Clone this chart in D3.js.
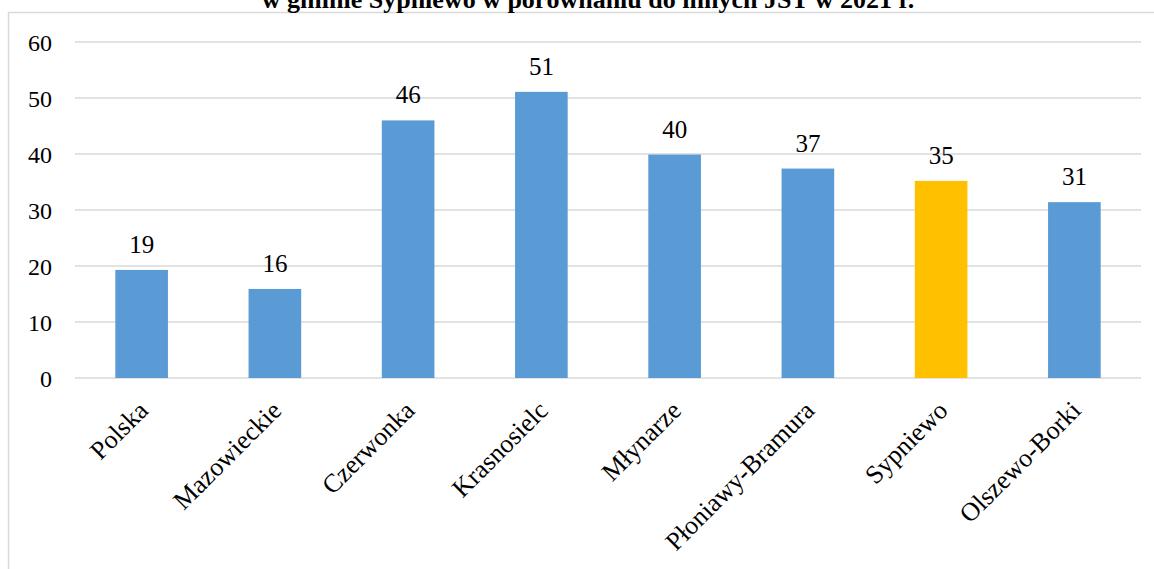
<!DOCTYPE html>
<html>
<head>
<meta charset="utf-8">
<script src="https://cdn.jsdelivr.net/npm/d3@7"></script>
<style>
  html, body { margin: 0; padding: 0; background: #fff; }
  svg { display: block; }
  svg text { font-family: "Liberation Serif", "Times New Roman", serif !important; fill: #000; }
</style>
</head>
<body>
<svg id="chart" width="1154" height="569"></svg>
<script>
const titleText = "w gminie Sypniewo w porównaniu do innych JST w 2021 r.";
const categories = ["Polska", "Mazowieckie", "Czerwonka", "Krasnosielc", "Młynarze", "Płoniawy-Bramura", "Sypniewo", "Olszewo-Borki"];
const values = [19.3, 15.9, 46.0, 51.1, 39.9, 37.4, 35.2, 31.4];
const highlight = ["Sypniewo"];
const yTicks = [0, 10, 20, 30, 40, 50, 60];

const W = 1154, H = 569;
const margin = { left: 75, right: 13, top: 42, bottom: 191 };
const FONT = "'Liberation Serif', 'Times New Roman', serif";
const svg = d3.select("#chart");

svg.append("rect").attr("width", W).attr("height", H).attr("fill", "#fff");

// outer frame (partially visible)
svg.append("path")
  .attr("d", `M8.5,${H} V12.5 H${W}`)
  .attr("fill", "none").attr("stroke", "#d9d9d9").attr("stroke-width", 1.5);

const x = d3.scaleBand()
  .domain(categories)
  .range([margin.left, W - margin.right])
  .paddingInner(0.605).paddingOuter(0.3025);

const y = d3.scaleLinear().domain([0, 60]).range([H - margin.bottom, margin.top]);

// gridlines
svg.append("g").selectAll("line").data(yTicks).join("line")
  .attr("x1", margin.left).attr("x2", W - margin.right)
  .attr("y1", d => y(d)).attr("y2", d => y(d))
  .attr("stroke", "#d9d9d9").attr("stroke-width", 1.5);

// y axis labels
const yAxis = d3.axisLeft(y).tickValues(yTicks).tickSize(0).tickPadding(0);
const gy = svg.append("g").attr("transform", `translate(52,0)`).call(yAxis);
gy.attr("font-family", FONT).attr("font-size", 24);
gy.select(".domain").remove();
gy.selectAll("text").style("font-family", FONT).style("font-size", "24px").attr("fill", "#000").attr("dy", "0.35em");

// bars
svg.append("g").selectAll("rect").data(categories).join("rect")
  .attr("x", d => x(d))
  .attr("width", x.bandwidth())
  .attr("y", (d, i) => y(values[i]))
  .attr("height", (d, i) => y(0) - y(values[i]))
  .attr("fill", d => highlight.includes(d) ? "#FFC000" : "#5B9BD5");

// value labels
svg.append("g").selectAll("text").data(categories).join("text")
  .attr("x", d => x(d) + x.bandwidth() / 2)
  .attr("y", (d, i) => y(values[i]) - 17)
  .attr("text-anchor", "middle")
  .style("font-family", FONT).style("font-size", "25px")
  .text((d, i) => d3.format(".0f")(values[i]));

// x axis labels
const xAxis = d3.axisBottom(x).tickSize(0).tickPadding(0);
const gx = svg.append("g").attr("transform", `translate(0,${y(0)})`).call(xAxis);
gx.attr("font-family", FONT).attr("font-size", 27);
gx.select(".domain").remove();
gx.selectAll("text")
  .style("font-family", FONT).style("font-size", "26px").attr("fill", "#000")
  .attr("text-anchor", "end")
  .attr("dy", 0).attr("y", 0)
  .attr("transform", "translate(8,34) rotate(-45)");

// title (clipped at top)
svg.append("text")
  .attr("x", 588).attr("y", 7.5)
  .attr("text-anchor", "middle")
  .style("font-family", FONT).style("font-size", "26px").style("font-weight", "bold")
  .text(titleText);
</script>
</body>
</html>
